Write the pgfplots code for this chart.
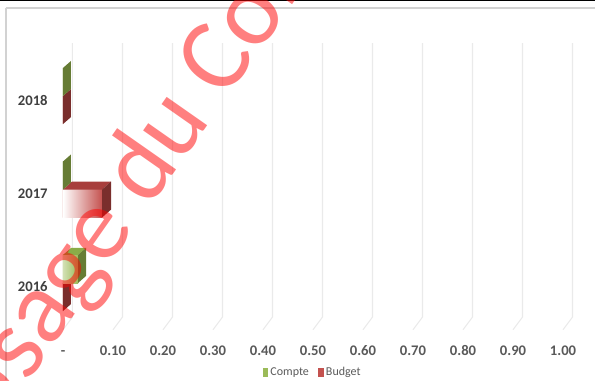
\documentclass[border=0pt]{standalone}
\usepackage{pgfplots}
\pgfplotsset{compat=1.18}
\usepackage{fontspec}
\setmainfont{Carlito}
\definecolor{gridc}{RGB}{234,234,234}
\definecolor{labx}{RGB}{89,89,89}
\definecolor{laby}{RGB}{64,64,64}
\definecolor{cFront}{RGB}{155,187,89}
\definecolor{cSide}{RGB}{102,124,52}
\definecolor{cTop}{RGB}{138,172,72}
\definecolor{bFront}{RGB}{196,82,79}
\definecolor{bSide}{RGB}{122,46,44}
\definecolor{bTop}{RGB}{168,62,60}
\begin{document}
\begin{tikzpicture}
\path[use as bounding box] (-47.25pt,-37.69pt) rectangle (399pt,247.31pt);
% frame remnants
\draw[black, line width=1pt] (-47.25pt,246.9pt) -- (399pt,246.9pt);
\draw[gray!35, line width=0.8pt] (-42.75pt,241.3pt) -- (399pt,241.3pt);
\draw[gray!35, line width=0.8pt] (-42.75pt,241.3pt) -- (-42.75pt,-37.69pt);
% back wall grid lines
\foreach \k in {0,...,10}{
  \draw[gridc, line width=0.8pt] ({37.5pt*\k},0pt) -- ({37.5pt*\k+7.1pt},9.5pt) -- ({37.5pt*\k+7.1pt},215pt);
}
\begin{axis}[
  width=375pt, height=210.375pt, scale only axis,
  xmin=0, xmax=1, ymin=-0.5, ymax=2.5,
  clip=false,
  axis line style={draw=none},
  major tick length=0pt,
  xtick={0,0.1,0.2,0.3,0.4,0.5,0.6,0.7,0.8,0.9,1},
  xticklabels={-,0.10,0.20,0.30,0.40,0.50,0.60,0.70,0.80,0.90,1.00},
  ytick={0,1,2},
  yticklabels={2016,2017,2018},
  xticklabel style={font=\fontsize{11}{12}\selectfont\bfseries, text=labx, anchor=base, yshift=-19.5pt},
  yticklabel style={font=\fontsize{11}{12}\selectfont\bfseries, text=laby, anchor=east, xshift=-8pt, yshift=-3pt},
  legend style={at={(0.5,-0.152)}, anchor=center, draw=none, fill=none,
    legend columns=2, font=\fontsize{9}{10}\selectfont, text=labx,
    /tikz/every even column/.append style={column sep=5pt}},
]
% front faces (data)
\addplot[xbar, bar width=0.3, bar shift=-0.15, fill=bFront, draw=none, forget plot]
  coordinates {(0,0) (0.078,1) (0,2)};
\addplot[xbar, bar width=0.3, bar shift=0.15, fill=cFront, draw=none, forget plot]
  coordinates {(0.03,0) (0,1) (0,2)};
% Budget 3D faces
\addplot[fill=bSide, draw=none, forget plot] coordinates {(0,-0.3) (0.016,-0.225) (0.016,0.075) (0,0)} -- cycle;
\addplot[left color=white, middle color=bFront, right color=bFront, draw=none, forget plot] coordinates {(0,0.7) (0.078,0.7) (0.078,1.0) (0,1.0)} -- cycle;
\addplot[fill=bTop, draw=none, forget plot] coordinates {(0,1.0) (0.078,1.0) (0.096,1.085) (0.018,1.085)} -- cycle;
\addplot[fill=bSide, draw=none, forget plot] coordinates {(0.078,0.7) (0.096,0.785) (0.096,1.085) (0.078,1.0)} -- cycle;
\addplot[fill=bSide, draw=none, forget plot] coordinates {(0,1.7) (0.016,1.775) (0.016,2.075) (0,2.0)} -- cycle;
% Compte 3D faces
\addplot[left color=cFront!45!white, right color=cFront, draw=none, forget plot] coordinates {(0,0) (0.03,0) (0.03,0.3) (0,0.3)} -- cycle;
\addplot[fill=cTop, draw=none, forget plot] coordinates {(0,0.3) (0.03,0.3) (0.046,0.375) (0.016,0.375)} -- cycle;
\addplot[fill=cSide, draw=none, forget plot] coordinates {(0.03,0) (0.046,0.075) (0.046,0.375) (0.03,0.3)} -- cycle;
\addplot[fill=cSide, draw=none, forget plot] coordinates {(0,1.0) (0.016,1.075) (0.016,1.375) (0,1.3)} -- cycle;
\addplot[fill=cSide, draw=none, forget plot] coordinates {(0,2.0) (0.016,2.075) (0.016,2.375) (0,2.3)} -- cycle;
% legend
\addlegendimage{legend image code/.code={\fill[cFront] (0pt,-3pt) rectangle (3.4pt,3pt);}}
\addlegendentry{Compte}
\addlegendimage{legend image code/.code={\fill[bFront] (0pt,-3pt) rectangle (3.4pt,3pt);}}
\addlegendentry{Budget}
\end{axis}
% watermark
\node[rotate=55, anchor=base west, text=red, opacity=0.5, inner sep=0pt,
  font=\fontsize{77.7}{80}\selectfont] at (-55.4pt,-81pt) {Usage du Conseil};
\end{tikzpicture}
\end{document}
